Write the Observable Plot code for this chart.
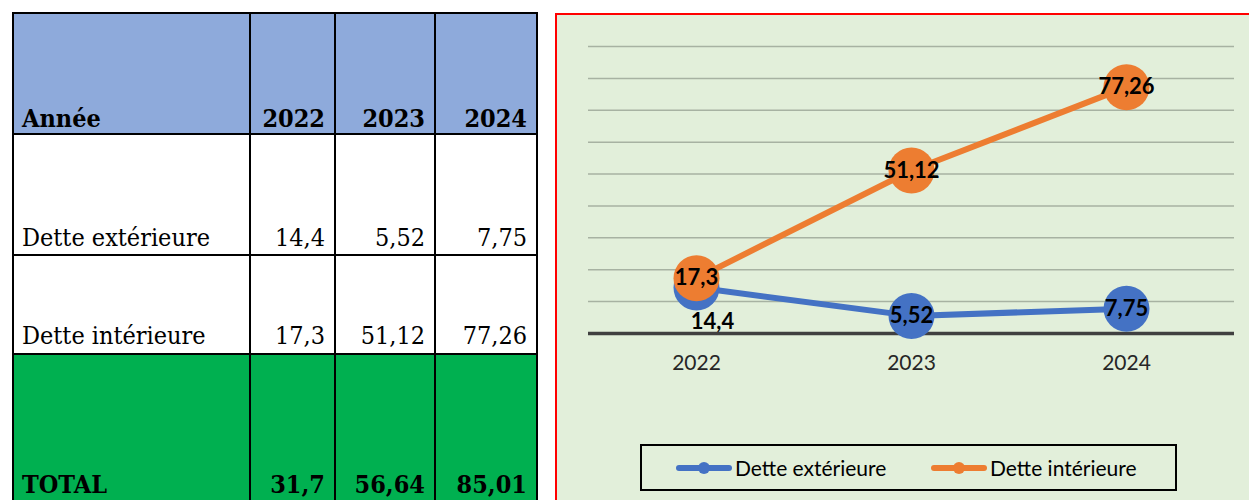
<!DOCTYPE html>
<html>
<head>
<meta charset="utf-8">
<script src="https://cdn.jsdelivr.net/npm/d3@7"></script>
<script src="https://cdn.jsdelivr.net/npm/@observablehq/plot@0.6"></script>
<style>
  html, body { margin: 0; padding: 0; background: #fff; width: 1249px; height: 500px; overflow: hidden; position: relative; }
  .cell { position: absolute; box-sizing: border-box; border: 2px solid #000; display: flex; align-items: flex-end;
          font-family: "DejaVu Serif Condensed", "DejaVu Serif", serif; font-stretch: condensed; font-size: 25px; line-height: 1; color: #000; }
  .lab { justify-content: flex-start; padding-left: 8px; }
  .num { justify-content: flex-end; padding-right: 9px; }
  .bold { font-weight: bold; }
  #panel { position: absolute; left: 555px; top: 13px; width: 720px; height: 520px; box-sizing: border-box;
           border: 2px solid #FF0000; background: #E2EFDA; }
  #chart { position: absolute; left: 555px; top: 13px; }
  #legend { position: absolute; left: 640px; top: 444px; width: 537px; height: 47px; box-sizing: border-box;
            border: 2px solid #000; font-family: Lato, "Noto Sans", sans-serif; font-size: 21px; color: #000; }
  .item { position: absolute; top: 0; height: 43px; display: flex; align-items: center; }
  .item svg { margin-right: 3px; }
</style>
</head>
<body>
<div id="table"></div>
<div id="panel"></div>
<div id="chart"></div>
<div id="legend"></div>
<script>
// ---- data ----
const years = ["2022", "2023", "2024"];
const seriesNames = ["Dette extérieure", "Dette intérieure"];
const exterieure = [14.4, 5.52, 7.75];
const interieure = [17.3, 51.12, 77.26];
const totals = [31.7, 56.64, 85.01];
const headerLabel = "Année";
const totalLabel = "TOTAL";
const gridValues = [10, 20, 30, 40, 50, 60, 70, 80, 90];
const seriesColors = ["#4472C4", "#ED7D31"];

const fmt = v => String(v).replace(".", ",");

// ---- table ----
const xs = [13, 250, 335, 435, 537];
const ys = [13, 134, 255, 354, 507];
const rowsDef = [
  {label: headerLabel, vals: years, bold: true, bg: "#8EAADB", pb: 2},
  {label: seriesNames[0], vals: exterieure.map(fmt), bold: false, bg: "#fff", pb: 4},
  {label: seriesNames[1], vals: interieure.map(fmt), bold: false, bg: "#fff", pb: 5},
  {label: totalLabel, vals: totals.map(fmt), bold: true, bg: "#00B050", pb: 9}
];
const table = document.getElementById("table");
rowsDef.forEach((row, ri) => {
  const cells = [row.label, ...row.vals];
  cells.forEach((txt, ci) => {
    const d = document.createElement("div");
    d.className = "cell " + (ci === 0 ? "lab" : "num") + (row.bold ? " bold" : "");
    d.style.left = (xs[ci] - 1) + "px";
    d.style.top = (ys[ri] - 1) + "px";
    d.style.width = (xs[ci + 1] - xs[ci] + 2) + "px";
    d.style.height = (ys[ri + 1] - ys[ri] + 2) + "px";
    d.style.background = row.bg;
    d.style.paddingBottom = row.pb + "px";
    d.textContent = txt;
    table.appendChild(d);
  });
});

// ---- chart ----
const ext = years.map((y, i) => ({year: y, value: exterieure[i], label: fmt(exterieure[i])}));
const int = years.map((y, i) => ({year: y, value: interieure[i], label: fmt(interieure[i])}));

const chart = Plot.plot({
  width: 694,
  height: 400,
  marginLeft: 33,
  marginRight: 15,
  marginTop: 33,
  marginBottom: 80,
  style: {background: "transparent", fontFamily: "Lato, 'Noto Sans', sans-serif"},
  x: {type: "point", domain: years, padding: 0.5, label: null},
  y: {domain: [0, 90], axis: null},
  marks: [
    Plot.ruleY(gridValues, {stroke: "#A7B2A2", strokeWidth: 1.5}),
    Plot.ruleY([0], {stroke: "#404040", strokeWidth: 3.5}),
    Plot.axisX({tickSize: 0, tickPadding: 22, fontSize: 21, fill: "#262626", label: null}),
    Plot.line(ext, {x: "year", y: "value", stroke: seriesColors[0], strokeWidth: 6}),
    Plot.dot(ext, {x: "year", y: "value", r: 23, fill: seriesColors[0], stroke: "none"}),
    Plot.line(int, {x: "year", y: "value", stroke: seriesColors[1], strokeWidth: 6}),
    Plot.dot(int, {x: "year", y: "value", r: 23, fill: seriesColors[1], stroke: "none"}),
    Plot.text(ext.slice(1), {x: "year", y: "value", text: "label", fontSize: 22, fontWeight: "bold", fill: "#000"}),
    Plot.text(ext.slice(0, 1), {x: "year", y: "value", text: "label", dx: 16, dy: 34, fontSize: 22, fontWeight: "bold", fill: "#000"}),
    Plot.text(int, {x: "year", y: "value", text: "label", fontSize: 22, fontWeight: "bold", fill: "#000"})
  ]
});
document.getElementById("chart").appendChild(chart);

// ---- legend ----
const legend = document.getElementById("legend");
const legendPos = [34, 289];
seriesNames.forEach((name, i) => {
  const it = document.createElement("div");
  it.className = "item";
  it.style.left = legendPos[i] + "px";
  it.innerHTML = `<svg width="56" height="14"><line x1="3" x2="53" y1="7" y2="7" stroke="${seriesColors[i]}" stroke-width="6" stroke-linecap="round"/><circle cx="28" cy="7" r="6" fill="${seriesColors[i]}"/></svg><span>${name}</span>`;
  legend.appendChild(it);
});
</script>
</body>
</html>
